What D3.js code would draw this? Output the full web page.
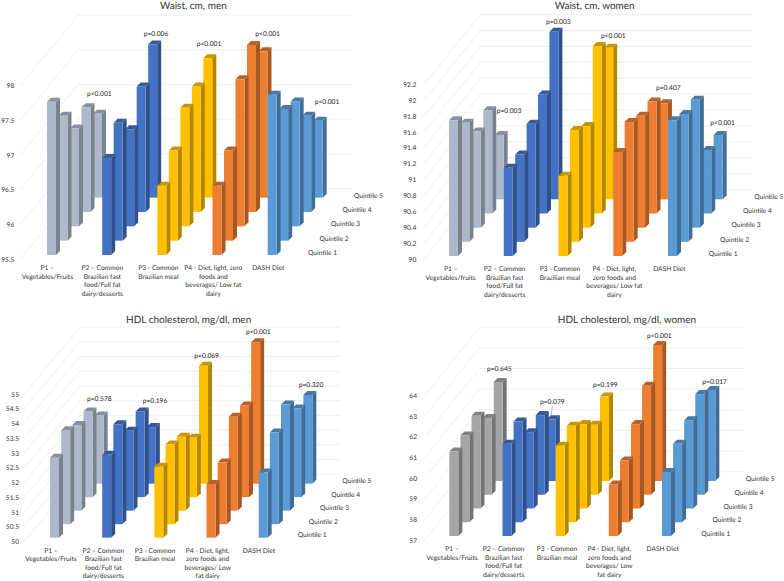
<!DOCTYPE html>
<html><head><meta charset="utf-8">
<script src="https://cdn.jsdelivr.net/npm/d3@7/dist/d3.min.js"></script>
<style>html,body{margin:0;padding:0;background:#fff}svg{display:block}text{font-family:Lato,"Open Sans",sans-serif;text-rendering:geometricPrecision}</style>
</head><body><svg id="c" width="784" height="581"></svg>
<script>
const quintiles = ["Quintile 1","Quintile 2","Quintile 3","Quintile 4","Quintile 5"];
const patterns = ["P1","P2","P3","P4","DASH"];

const titles = ["Waist, cm, men","Waist, cm, women","HDL cholesterol, mg/dl, men","HDL cholesterol, mg/dl, women"];

const waistMen = [[97.71,97.30,96.91,97.01,96.71],[96.90,97.20,96.90,97.31,97.71],[96.50,96.80,97.21,97.31,97.51],[96.50,96.80,97.62,97.91,97.61],[97.81,97.40,97.30,96.89,96.61]];
const waistWomen = [[91.71,91.50,91.21,91.30,90.81],[91.11,91.10,91.31,91.50,92.11],[91.01,91.41,91.28,92.11,91.91],[91.31,91.51,91.41,91.41,91.21],[91.71,91.61,91.61,90.80,90.81]];
const hdlMen = [[52.71,53.19,52.91,52.91,52.31],[52.81,53.39,52.71,52.91,51.92],[52.41,52.70,52.51,52.02,54.00],[51.82,52.09,53.19,53.11,54.80],[52.21,53.11,53.60,53.01,53.01]];
const hdlWomen = [[61.09,61.20,61.49,60.72,61.80],[61.47,61.88,60.70,60.86,59.99],[61.38,61.68,61.09,60.39,61.09],[59.50,59.99,61.09,62.28,63.59],[60.10,60.80,61.28,61.88,61.41]];

const pWaistMen = ["p<0.001","p=0.006","p<0.001","p<0.001","p<0.001"];
const pWaistWomen = ["p=0.003","p=0.003","p<0.001","p=0.407","p<0.001"];
const pHdlMen = ["p=0.578","p=0.196","p=0.069","p<0.001","p=0.320"];
const pHdlWomen = ["p=0.645","p=0.079","p=0.199","p<0.001","p=0.017"];

const ticksWaistMen = [95.5,96,96.5,97,97.5,98];
const ticksWaistWomen = [90,90.2,90.4,90.6,90.8,91,91.2,91.4,91.6,91.8,92,92.2];
const ticksHdlMen = [50,50.5,51,51.5,52,52.5,53,53.5,54,54.5,55];
const ticksHdlWomen = [57,58,59,60,61,62,63,64];

const labelsA = [["P1 –","Vegetables/Fruits"],["P2 – Common","Brazilian fast","food/Full fat","dairy/desserts"],["P3 - Common","Brazilian meal"],["P4 - Diet, light, zero","foods and","beverages/ Low fat","dairy"],["DASH Diet"]];
const labelsB = [["P1 –","Vegetables/fruits"],["P2 – Common","Brazilian fast","food/Full fat","dairy/desserts"],["P3 - Common","Brazilian meal"],["P4 - Diet, light,","zero foods and","beverages/ Low fat","dairy"],["DASH Diet"]];
const labelsC = [["P1 –","Vegetables/Fruits"],["P2 – Common","Brazilian fast","food/Full fat","dairy/desserts"],["P3 - Common","Brazilian meal"],["P4 - Diet, light,","zero foods and","beverages/ Low","fat dairy"],["DASH Diet"]];

const palette = ["#adb9ca","#4472c4","#ffc000","#ed7d31","#5b9bd5"];
const paletteGrey = ["#a5a5a5","#4472c4","#ffc000","#ed7d31","#5b9bd5"];

/* layout, in 3x crop units of each quadrant */
const layouts = [
 {ox:0,oy:0,x0:141,cat:165.5,dx:34.5,dy:43,base:765,ppu:208,bw:27,side:12,wallFront:[60,778],wallBack:[235,565],wallR:1060,axisX:43,
  titleXY:[580,17],qx:924,qy:758,labX:[142,307,475,640,805],labY:803,labStep:25.7,
  pXY:[[298,280],[468,100],[627,131],[803,100],[981,305]]},
 {ox:392,oy:0,x0:171,cat:164.25,dx:34.25,dy:42.5,base:768,ppu:238.2,bw:27,side:12,wallFront:[95,778],wallBack:[265,568],wallR:1083,axisX:73,
  titleXY:[608,17],qx:950,qy:760,labX:[176,338,504,667,832],labY:806,labStep:25.5,
  pXY:[[351,333],[499,65],[664,106],[829,264],[992,369]]},
 {ox:0,oy:300,x0:150,cat:156.5,dx:33.5,dy:40.5,base:713,ppu:88.4,bw:27,side:12,wallFront:[72,725],wallBack:[240,523],wallR:1020,axisX:57,
  titleXY:[566,57],qx:893,qy:704,labX:[153,310,465,623,777],labY:751,labStep:25.3,
  pXY:[[298,296],[465,301],[620,167],[775,96],[933,254]]},
 {ox:392,oy:300,x0:172,cat:159.5,dx:33.25,dy:41.25,base:708,ppu:61.9,bw:27,side:12,wallFront:[98,721],wallBack:[262,515],wallR:1058,axisX:75,
  titleXY:[705,57],qx:928,qy:701,labX:[180,335,495,652,812],labY:747,labStep:25.3,
  pXY:[[322,207],[481,306],[640,253],[802,106],[968,244]],
  leader:[[481,318],[478,345]]}
];

const panels = [
 {title:titles[0],values:waistMen,ps:pWaistMen,ticks:ticksWaistMen,labels:labelsA,colors:palette,fmt:d=>String(d)},
 {title:titles[1],values:waistWomen,ps:pWaistWomen,ticks:ticksWaistWomen,labels:labelsB,colors:palette,fmt:d=>String(d)},
 {title:titles[2],values:hdlMen,ps:pHdlMen,ticks:ticksHdlMen,labels:labelsC,colors:palette,fmt:d=>String(d)},
 {title:titles[3],values:hdlWomen,ps:pHdlWomen,ticks:ticksHdlWomen,labels:labelsC,colors:paletteGrey,fmt:d=>String(d)}
];

const svg = d3.select("#c");
panels.forEach((p,pi)=>{
  const L = layouts[pi];
  const g = svg.append("g").attr("transform",`translate(${L.ox},${L.oy}) scale(${1/3})`);
  const tMin = p.ticks[0], tMax = p.ticks[p.ticks.length-1];
  const h = d3.scaleLinear().domain([tMin,tMax]).range([0,(tMax-tMin)*L.ppu]);
  const xCat = d3.scalePoint().domain(patterns).range([L.x0,L.x0+4*L.cat]);
  const xDepth = d3.scalePoint().domain(quintiles).range([0,4*L.dx]);
  const yDepth = d3.scalePoint().domain(quintiles).range([L.base,L.base-4*L.dy]);

  /* walls */
  const grid = g.append("g").attr("stroke","#ebebeb").attr("stroke-width",2.4).attr("fill","none");
  p.ticks.forEach(t=>{
    const d = h(t);
    grid.append("path").attr("d",`M${L.wallFront[0]},${L.wallFront[1]-d}L${L.wallBack[0]},${L.wallBack[1]-d}L${L.wallR},${L.wallBack[1]-d}`);
  });

  /* y axis */
  const yAxisScale = d3.scaleLinear().domain([tMin,tMax]).range([L.wallFront[1],L.wallFront[1]-h(tMax)]);
  const ax = g.append("g").attr("transform",`translate(${L.axisX},0)`)
    .call(d3.axisLeft(yAxisScale).tickValues(p.ticks).tickSize(0).tickPadding(0).tickFormat(p.fmt));
  ax.select(".domain").remove();
  ax.selectAll("text").attr("font-size",20).attr("fill","#333").style("font-family","Lato");

  /* bars, back row first */
  for (let qi=4; qi>=0; qi--){
    const q = quintiles[qi];
    patterns.forEach((c,ci)=>{
      const v = p.values[ci][qi];
      const x = xCat(c)+xDepth(q), b = yDepth(q), top = b-h(v), w = L.bw, s = L.side;
      const col = d3.color(p.colors[ci]);
      const bar = g.append("g");
      bar.append("path").attr("fill",col.darker(1.0).formatHex())
        .attr("d",`M${x+w},${top}L${x+w+s},${top-s}L${x+w+s},${b-s}L${x+w},${b}Z`);
      bar.append("path").attr("fill",col.darker(0.7).formatHex())
        .attr("d",`M${x},${top}L${x+s},${top-s}L${x+w+s},${top-s}L${x+w},${top}Z`);
      bar.append("rect").attr("x",x).attr("y",top).attr("width",w).attr("height",b-top).attr("fill",col.formatHex());
    });
  }

  /* quintile labels */
  g.selectAll(".q").data(quintiles).enter().append("text")
    .attr("x",(d,i)=>L.qx+i*L.dx).attr("y",(d,i)=>L.qy-i*L.dy).attr("dy","0.35em")
    .attr("font-size",20).attr("fill","#333").text(d=>d);

  /* category labels */
  p.labels.forEach((lines,ci)=>{
    lines.forEach((ln,li)=>{
      g.append("text").attr("x",L.labX[ci]).attr("y",L.labY+li*L.labStep).attr("dy","0.35em")
       .attr("text-anchor","middle").attr("font-size",20).attr("fill","#333").text(ln);
    });
  });

  /* p values */
  p.ps.forEach((s,i)=>{
    g.append("text").attr("x",L.pXY[i][0]).attr("y",L.pXY[i][1]).attr("dy","0.35em")
     .attr("text-anchor","middle").attr("font-size",20).attr("fill","#222").text(s);
  });
  if (L.leader) g.append("path").attr("d",`M${L.leader[0]}L${L.leader[1]}`).attr("stroke","#999").attr("stroke-width",2).attr("fill","none");

  /* title */
  g.append("text").attr("x",L.titleXY[0]).attr("y",L.titleXY[1]).attr("dy","0.35em")
   .attr("text-anchor","middle").attr("font-size",30).attr("fill","#333").text(p.title);
});
</script></body></html>
